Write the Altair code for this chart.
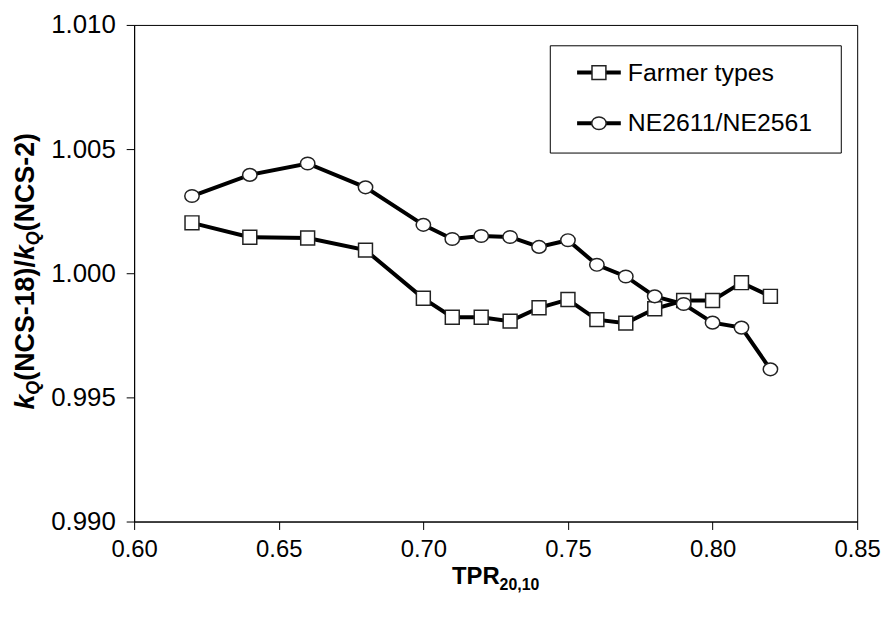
import altair as alt
import pandas as pd

# ---- data ----
tpr = [0.62, 0.64, 0.66, 0.68, 0.70, 0.71, 0.72, 0.73, 0.74, 0.75, 0.76, 0.77, 0.78, 0.79, 0.80, 0.81, 0.82]
farmer = [1.00203, 1.00145, 1.00142, 1.00093, 0.99899, 0.99823, 0.99823, 0.99807, 0.99861, 0.99894,
          0.99813, 0.99799, 0.99857, 0.99890, 0.99890, 0.99962, 0.99907]
ne = [1.00311, 1.00396, 1.00442, 1.00346, 1.00195, 1.00138, 1.00150, 1.00146, 1.00106, 1.00133,
      1.00034, 0.99987, 0.99907, 0.99876, 0.99801, 0.99781, 0.99613]
series_names = ["Farmer types", "NE2611/NE2561"]
x_ticks = [0.60, 0.65, 0.70, 0.75, 0.80, 0.85]
y_ticks = [0.990, 0.995, 1.000, 1.005, 1.010]

FONT = "Liberation Sans"
W, H = 728, 500

df_f = pd.DataFrame({"tpr": tpr, "ratio": farmer, "series": series_names[0]})
df_n = pd.DataFrame({"tpr": tpr, "ratio": ne, "series": series_names[1]})

xs = alt.Scale(domain=[0.60, 0.85], nice=False, zero=False)
ys = alt.Scale(domain=[0.990, 1.010], nice=False, zero=False)
xenc = alt.X("tpr:Q", scale=xs, axis=alt.Axis(values=x_ticks, format=".2f", title=None,
                                               labelFontSize=24, labelPadding=8))
yenc = alt.Y("ratio:Q", scale=ys, axis=alt.Axis(values=y_ticks, format=".3f", title=None,
                                                 labelFontSize=26, labelPadding=11))

ELLIPSE = "M-1,0A1,0.88,0,1,0,1,0A1,0.88,0,1,0,-1,0Z"
MSTROKE = "#222222"


def line_layer(d):
    return alt.Chart(d).mark_line(color="black", strokeWidth=4).encode(x=xenc, y=yenc)


def point_layer(d, shape, size):
    return alt.Chart(d).mark_point(shape=shape, size=size, filled=True, fill="white", stroke=MSTROKE,
                                   strokeWidth=1.5, opacity=1).encode(x=xenc, y=yenc)


one = pd.DataFrame({"k": [0]})


def txt(s, x, y, size=24, weight="bold", style="normal", angle=0, align="left", baseline="alphabetic"):
    return alt.Chart(one).mark_text(text=s, fontSize=size, fontWeight=weight, fontStyle=style, angle=angle,
                                    align=align, baseline=baseline, font=FONT, color="black").encode(
        x=alt.value(x), y=alt.value(y))


# approximate Arial-bold advance widths (em) to lay out mixed-style titles
WID = {"k": 0.556, "Q": 0.778, "(": 0.333, ")": 0.333, "N": 0.722, "C": 0.722, "S": 0.667, "-": 0.333,
       "1": 0.556, "8": 0.556, "2": 0.556, "/": 0.278, "T": 0.611, "P": 0.667, "R": 0.722, "0": 0.556, ",": 0.278}


def tw(s, size):
    return sum(WID[c] for c in s) * size


# ---- y axis title (rotated, reads upward) ----
YF, YS = 27, 18
ytitle_parts = [("k", YF, "italic", 0), ("Q", YS, "italic", 5), ("(NCS-18)/", YF, "normal", 0),
                ("k", YF, "italic", 0), ("Q", YS, "italic", 5), ("(NCS-2)", YF, "normal", 0)]
total = sum(tw(s, sz) for s, sz, _, _ in ytitle_parts)
ypos = 248 + total / 2
ybase = -101
ytitle = []
for s, sz, st, off in ytitle_parts:
    ytitle.append(txt(s, ybase + off, ypos, size=sz, style=st, angle=270))
    ypos -= tw(s, sz)

# ---- x axis title ----
xt_total = tw("TPR", 24) + tw("20,10", 16)
x0 = W / 2 - xt_total / 2
xtitle = [txt("TPR", x0, 563, size=24), txt("20,10", x0 + tw("TPR", 24), 569, size=16)]

# ---- legend ----
LX0, LX1, LY0, LY1 = 419, 712, 21, 129
leg = [alt.Chart(one).mark_rect(fill="white", stroke="black", strokeWidth=1).encode(
    x=alt.value(LX0), x2=alt.value(LX1), y=alt.value(LY0), y2=alt.value(LY1))]
for name, shape, size, ly in [(series_names[0], "square", 196, 48), (series_names[1], ELLIPSE, 210, 99)]:
    leg.append(alt.Chart(one).mark_rule(color="black", strokeWidth=4).encode(
        x=alt.value(446), x2=alt.value(490), y=alt.value(ly)))
    leg.append(alt.Chart(one).mark_point(shape=shape, size=size, filled=True, fill="white", stroke=MSTROKE,
                                         strokeWidth=1.5, opacity=1).encode(x=alt.value(468), y=alt.value(ly)))
    leg.append(txt(name, 497, ly, size=25, weight="normal", baseline="middle"))

chart = alt.layer(
    line_layer(df_f), point_layer(df_f, "square", 196),
    line_layer(df_n), point_layer(df_n, ELLIPSE, 210),
    *leg, *ytitle, *xtitle
).properties(
    width=W, height=H,
    autosize=alt.AutoSizeParams(type="none"),
    padding={"left": 127, "top": 15, "right": 26, "bottom": 84},
).configure(font=FONT).configure_view(
    stroke="black", strokeWidth=1
).configure_axis(
    grid=False, domainColor="black", tickColor="black", tickSize=8, labelColor="black",
    labelFont=FONT, labelFlush=False, labelOverlap=False, labelBound=False
)

chart.save("out.html", embed_options={"renderer": "svg", "actions": False})
